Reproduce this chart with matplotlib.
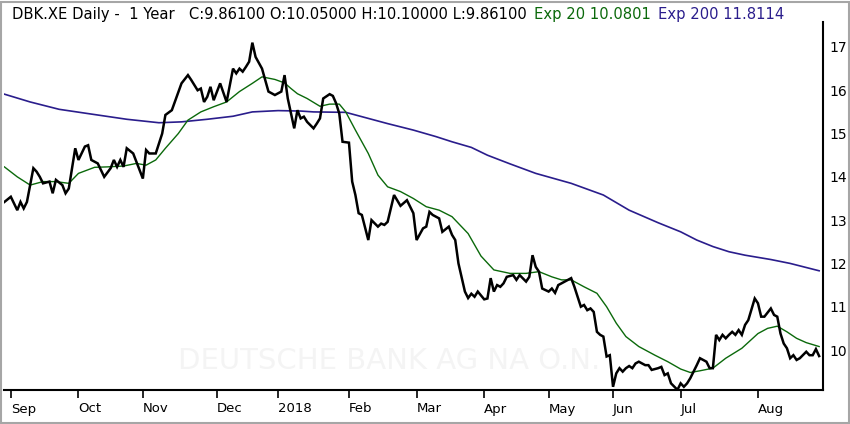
import numpy as np
import matplotlib
matplotlib.use("Agg")
import matplotlib.pyplot as plt
from matplotlib.patches import Rectangle

# DBK.XE daily, last year. x = trading-day index (0 = 30 Aug 2017)
price_day = [0, 2, 4, 5, 6, 7, 9, 10, 11, 12, 14, 15, 16, 18, 19, 20, 22, 23, 25, 26,
             27, 29, 31, 33, 34, 35, 36, 37, 38, 40, 43, 44, 45, 47, 49, 50, 52, 55, 57, 58,
             60, 61, 62, 63, 64, 65, 67, 69, 71, 72, 73, 74, 75, 76, 77, 78, 80, 82, 84, 86,
             87, 88, 90, 91, 92, 93, 94, 96, 97, 98, 99, 101, 102, 103, 104, 105, 107, 108, 109, 110,
             111, 113, 114, 116, 117, 118, 119, 121, 123, 125, 127, 128, 130, 131, 132, 133, 135, 136, 138, 139,
             140, 141, 143, 144, 145, 146, 147, 149, 150, 151, 152, 153, 154, 155, 156, 158, 159, 160, 162, 163,
             164, 165, 166, 167, 169, 170, 171, 172, 173, 174, 176, 177, 179, 180, 181, 182, 183, 184, 185, 186,
             187, 188, 189, 190, 191, 192, 193, 194, 195, 196, 197, 199, 200, 201, 203, 204, 205, 206, 207, 209,
             210, 211, 212, 213, 215, 216, 218, 219, 220, 221, 222, 223, 224, 225, 226, 227, 228, 229, 230, 231,
             233, 234, 235, 236, 238, 239, 240, 241, 242, 243, 244, 245, 246, 247, 249, 250, 251, 252, 253]
price_close = [13.42, 13.54, 13.23, 13.42, 13.27, 13.42, 14.20, 14.12, 14.00, 13.85, 13.89, 13.62, 13.93, 13.81, 13.62, 13.73, 14.66, 14.39, 14.70, 14.73,
               14.39, 14.31, 14.00, 14.20, 14.39, 14.23, 14.39, 14.23, 14.66, 14.54, 13.96, 14.62, 14.54, 14.54, 15.00, 15.43, 15.54, 16.16, 16.35, 16.24,
               16.00, 16.04, 15.73, 15.85, 16.08, 15.77, 16.16, 15.73, 16.50, 16.39, 16.50, 16.43, 16.54, 16.66, 17.10, 16.77, 16.50, 15.97, 15.89, 15.97,
               16.35, 15.81, 15.12, 15.54, 15.35, 15.39, 15.27, 15.12, 15.23, 15.35, 15.81, 15.91, 15.87, 15.70, 15.46, 14.81, 14.79, 13.89, 13.58, 13.16,
               13.12, 12.54, 13.00, 12.85, 12.92, 12.89, 12.96, 13.58, 13.33, 13.46, 13.16, 12.54, 12.81, 12.85, 13.19, 13.12, 13.04, 12.73, 12.85, 12.66,
               12.54, 12.00, 11.35, 11.20, 11.30, 11.23, 11.35, 11.17, 11.19, 11.66, 11.35, 11.50, 11.46, 11.54, 11.69, 11.73, 11.62, 11.73, 11.58, 11.69,
               12.19, 11.92, 11.81, 11.42, 11.35, 11.42, 11.32, 11.50, 11.54, 11.58, 11.66, 11.46, 11.00, 11.04, 10.92, 10.96, 10.88, 10.42, 10.35, 10.31,
               9.85, 9.88, 9.15, 9.46, 9.58, 9.50, 9.58, 9.63, 9.58, 9.69, 9.73, 9.65, 9.65, 9.54, 9.58, 9.61, 9.42, 9.46, 9.23, 9.08,
               9.23, 9.15, 9.23, 9.35, 9.65, 9.81, 9.73, 9.58, 9.58, 10.35, 10.23, 10.35, 10.27, 10.35, 10.42, 10.35, 10.46, 10.35, 10.58, 10.69,
               11.19, 11.08, 10.77, 10.77, 10.96, 10.81, 10.77, 10.38, 10.15, 10.04, 9.81, 9.88, 9.77, 9.81, 9.96, 9.88, 9.88, 10.02, 9.86]

ema20_day = [0, 4, 8, 12, 16, 20, 23, 28, 32, 37, 41, 44, 47, 50, 54, 57, 61, 65, 69, 73,
             77, 80, 84, 87, 89, 91, 94, 98, 101, 104, 106, 109, 113, 116, 119, 123, 127, 131, 135, 139,
             144, 148, 152, 157, 162, 166, 170, 173, 176, 180, 184, 187, 190, 193, 197, 202, 206, 210, 213, 216,
             220, 224, 229, 234, 237, 240, 243, 246, 249, 253]
ema20 = [14.23, 14.00, 13.81, 13.89, 13.89, 13.85, 14.08, 14.22, 14.23, 14.25, 14.31, 14.27, 14.39, 14.66, 15.00, 15.31, 15.50, 15.62, 15.73, 15.97,
         16.16, 16.31, 16.25, 16.17, 16.04, 15.92, 15.81, 15.63, 15.68, 15.68, 15.50, 15.08, 14.54, 14.04, 13.77, 13.66, 13.50, 13.31, 13.23, 13.08,
         12.69, 12.17, 11.85, 11.77, 11.77, 11.81, 11.69, 11.62, 11.62, 11.46, 11.31, 11.00, 10.62, 10.31, 10.08, 9.88, 9.73, 9.56, 9.48, 9.52,
         9.58, 9.81, 10.04, 10.38, 10.50, 10.55, 10.42, 10.27, 10.17, 10.08]

ema200_day = [0, 8, 17, 27, 38, 48, 55, 63, 71, 77, 85, 92, 96, 106, 111, 119, 127, 134, 139, 145,
              150, 157, 165, 176, 186, 194, 203, 210, 215, 220, 225, 230, 238, 244, 253]
ema200 = [15.91, 15.73, 15.56, 15.45, 15.33, 15.25, 15.27, 15.33, 15.40, 15.50, 15.53, 15.52, 15.50, 15.49, 15.39, 15.23, 15.08, 14.93, 14.81, 14.68,
          14.50, 14.30, 14.08, 13.85, 13.58, 13.23, 12.94, 12.73, 12.54, 12.39, 12.27, 12.19, 12.09, 12.00, 11.83]

month_day = [2, 23, 43, 66, 85, 107, 128, 149, 169, 189, 210, 234]
month_lbl = ["Sep", "Oct", "Nov", "Dec", "2018", "Feb", "Mar", "Apr", "May", "Jun", "Jul", "Aug"]
y_ticks = [10, 11, 12, 13, 14, 15, 16, 17]

W, H = 850, 424
fig = plt.figure(figsize=(W / 100, H / 100), dpi=100)
fig.patch.set_facecolor("white")
ax = fig.add_axes([4 / W, 1 - 390 / H, 819 / W, 368 / H])

ax.plot(ema200_day, ema200, color="#2a1d8c", lw=1.2, zorder=3)
ax.plot(ema20_day, ema20, color="#0b690b", lw=1.0, zorder=4)
ax.plot(price_day, price_close, color="black", lw=1.8, zorder=5, solid_joinstyle="miter")

# faint name watermark
ax.text(174 / 819, 0.08, "DEUTSCHE BANK AG NA O.N.", transform=ax.transAxes, ha="left",
        va="center", fontsize=21, color="#f4f4f4", zorder=1)

ax.set_xlim(-0.12, 254.2)
ax.set_ylim(9.076, 17.577)

ax.set_xticks(month_day)
ax.set_xticklabels(month_lbl, ha="left")
ax.yaxis.tick_right()
ax.set_yticks(y_ticks)
ax.set_yticklabels([str(v) for v in y_ticks])
ax.tick_params(axis="x", direction="out", length=6, width=1.2, pad=3, labelsize=9.5, colors="black")
ax.tick_params(axis="y", length=0, pad=4.5, labelsize=10)

for s in ["left", "top"]:
    ax.spines[s].set_visible(False)
for s in ["right", "bottom"]:
    ax.spines[s].set_linewidth(1.5)
    ax.spines[s].set_color("black")

# outer frame
fig.patches.append(Rectangle((1 / W, 1 / H), (W - 2.5) / W, (H - 3) / H, transform=fig.transFigure,
                             fill=False, edgecolor="#a6a6a6", lw=1.5))

# header
parts = [("DBK.XE Daily -  1 Year   C:9.86100 O:10.05000 H:10.10000 L:9.86100", "black"),
         ("Exp 20 10.0801", "#0b690b"),
         ("Exp 200 11.8114", "#2a1d8c")]
fig.canvas.draw()
r = fig.canvas.get_renderer()
xpos = 12
for txt, col in parts:
    t = fig.text(xpos / W, 1 - 15 / H, txt, color=col, fontsize=10.6, va="center", ha="left")
    bb = t.get_window_extent(renderer=r)
    xpos = bb.x1 + 7

fig.savefig("out.png", dpi=100)
